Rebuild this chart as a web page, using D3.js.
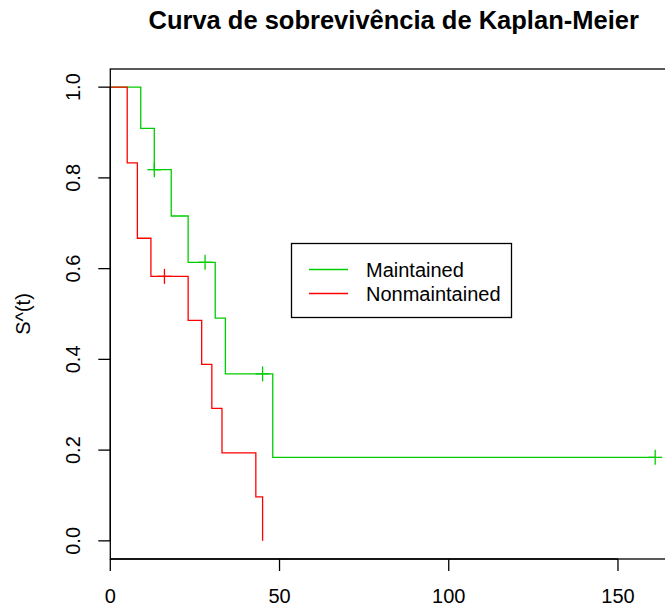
<!DOCTYPE html>
<html>
<head>
<meta charset="utf-8">
<script src="https://cdn.jsdelivr.net/npm/d3@7"></script>
<style>
  html, body { margin: 0; padding: 0; background: #fff; }
  text { font-family: "Liberation Sans", Arial, sans-serif; }
</style>
</head>
<body>
<svg id="chart" width="665" height="608"></svg>
<script>
// Kaplan-Meier step estimates (time of step, survival after step)
const maintainedTimes = [0, 9, 13, 18, 23, 31, 34, 48, 161];
const maintainedSurv  = [1.0, 0.909, 0.818, 0.716, 0.614, 0.491, 0.368, 0.184, 0.184];
const maintainedCensor = [13, 28, 45, 161];

const nonmaintainedTimes = [0, 5, 8, 12, 23, 27, 30, 33, 43, 45];
const nonmaintainedSurv  = [1.0, 0.833, 0.667, 0.583, 0.486, 0.389, 0.292, 0.194, 0.097, 0.0];
const nonmaintainedCensor = [16];

const groupNames  = ["Maintained", "Nonmaintained"];
const groupColors = ["#00cd00", "#ff0000"];

const xTicks = [0, 50, 100, 150];
const yTicks = [0.0, 0.2, 0.4, 0.6, 0.8, 1.0];

const titleText = "Curva de sobrevivência de Kaplan-Meier";
const yLabel = "S^(t)";

const svg = d3.select("#chart");
const plotLeft = 110.3, plotRight = 677, plotTop = 69, plotBottom = 559;
const fontSize = 20;

const x = d3.scaleLinear().domain([0, 161 * 1.04]).range([plotLeft, plotRight]);
const y = d3.scaleLinear().domain([-0.04, 1.04]).range([plotBottom, plotTop]);

// survival value at a given time (right-continuous step)
function survAt(times, surv, t) {
  let s = surv[0];
  for (let i = 0; i < times.length; i++) if (times[i] <= t) s = surv[i];
  return s;
}

const groups = [
  { times: maintainedTimes, surv: maintainedSurv, censor: maintainedCensor, color: groupColors[0] },
  { times: nonmaintainedTimes, surv: nonmaintainedSurv, censor: nonmaintainedCensor, color: groupColors[1] }
];

const plot = svg.append("g");
const line = d3.line().x(d => x(d[0])).y(d => y(d[1])).curve(d3.curveStepAfter);

groups.forEach(g => {
  const pts = g.times.map((t, i) => [t, g.surv[i]]);
  plot.append("path")
    .attr("d", line(pts))
    .attr("fill", "none")
    .attr("stroke", g.color)
    .attr("stroke-width", 1.3);
  // censoring marks ("+")
  g.censor.forEach(c => {
    const cx = x(c), cy = y(survAt(g.times, g.surv, c));
    plot.append("line").attr("x1", cx - 7).attr("x2", cx + 7).attr("y1", cy).attr("y2", cy)
      .attr("stroke", g.color).attr("stroke-width", 1.3);
    plot.append("line").attr("x1", cx).attr("x2", cx).attr("y1", cy - 7.5).attr("y2", cy + 7.5)
      .attr("stroke", g.color).attr("stroke-width", 1.3);
  });
});

// plot frame
svg.append("rect")
  .attr("x", plotLeft).attr("y", plotTop)
  .attr("width", plotRight - plotLeft).attr("height", plotBottom - plotTop)
  .attr("fill", "none").attr("stroke", "#000").attr("stroke-width", 1.3);

// x axis
const xAxis = svg.append("g");
xAxis.append("line").attr("x1", x(xTicks[0])).attr("x2", x(xTicks[xTicks.length - 1]))
  .attr("y1", plotBottom).attr("y2", plotBottom).attr("stroke", "#000").attr("stroke-width", 1.3);
xTicks.forEach(t => {
  xAxis.append("line").attr("x1", x(t)).attr("x2", x(t)).attr("y1", plotBottom).attr("y2", plotBottom + 12)
    .attr("stroke", "#000").attr("stroke-width", 1.3);
  xAxis.append("text").attr("x", x(t)).attr("y", 595.5).attr("dy", "0.35em")
    .attr("text-anchor", "middle").attr("font-size", fontSize).text(t);
});

// y axis
const yAxis = svg.append("g");
yAxis.append("line").attr("x1", plotLeft).attr("x2", plotLeft)
  .attr("y1", y(yTicks[0])).attr("y2", y(yTicks[yTicks.length - 1]))
  .attr("stroke", "#000").attr("stroke-width", 1.3);
yTicks.forEach(t => {
  yAxis.append("line").attr("x1", plotLeft - 12).attr("x2", plotLeft).attr("y1", y(t)).attr("y2", y(t))
    .attr("stroke", "#000").attr("stroke-width", 1.3);
  yAxis.append("text")
    .attr("transform", `translate(72.5,${y(t)}) rotate(-90)`)
    .attr("dy", "0.35em")
    .attr("text-anchor", "middle").attr("font-size", fontSize).text(d3.format(".1f")(t));
});

svg.append("text")
  .attr("transform", `translate(23,${(plotTop + plotBottom) / 2}) rotate(-90)`)
  .attr("dy", "0.35em").attr("text-anchor", "middle").attr("font-size", fontSize)
  .text(yLabel);

// title
svg.append("text").attr("x", (plotLeft + plotRight) / 2).attr("y", 20).attr("dy", "0.35em")
  .attr("text-anchor", "middle").attr("font-size", 25.5).attr("font-weight", "bold")
  .text(titleText);

// legend
const lg = svg.append("g");
lg.append("rect").attr("x", 291.5).attr("y", 243.5).attr("width", 220).attr("height", 74)
  .attr("fill", "#fff").attr("stroke", "#000").attr("stroke-width", 1.3);
groupNames.forEach((name, i) => {
  const ly = 269.5 + i * 24;
  lg.append("line").attr("x1", 309).attr("x2", 348).attr("y1", ly).attr("y2", ly)
    .attr("stroke", groupColors[i]).attr("stroke-width", 1.3);
  lg.append("text").attr("x", 366).attr("y", ly).attr("dy", "0.35em")
    .attr("font-size", fontSize).text(name);
});
</script>
</body>
</html>
